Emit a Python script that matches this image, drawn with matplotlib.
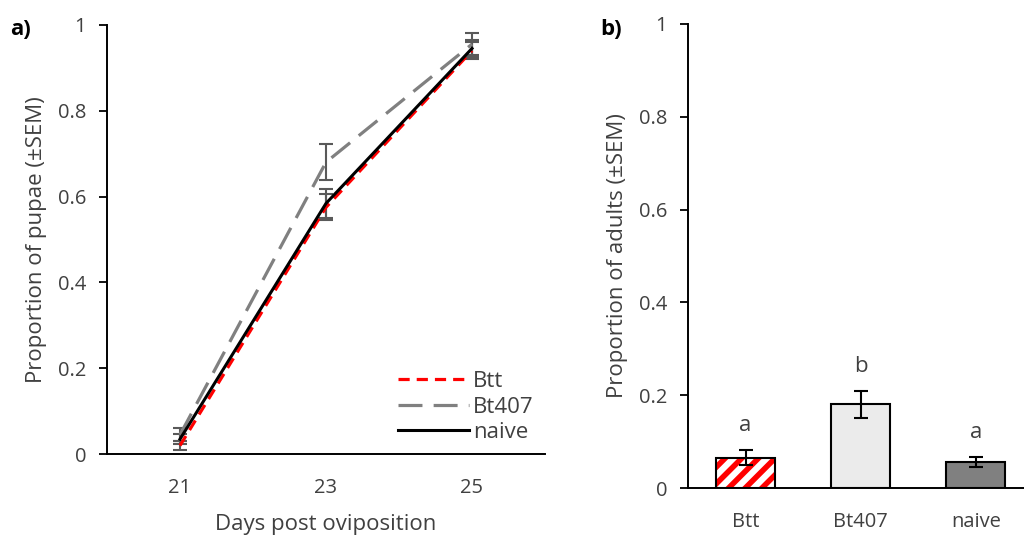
import numpy as np
import matplotlib.pyplot as plt

plt.rcParams['font.family'] = ['Open Sans', 'DejaVu Sans']
plt.rcParams['hatch.linewidth'] = 4

# panel a) - pupation over time
days = [21, 23, 25]
btt = [0.02, 0.575, 0.94]
btt_err = [0.01, 0.03, 0.02]
bt407 = [0.045, 0.68, 0.955]
bt407_err = [0.015, 0.042, 0.025]
naive = [0.035, 0.584, 0.945]
naive_err = [0.012, 0.033, 0.02]

# panel b) - adults
groups = ['Btt', 'Bt407', 'naive']
adults = [0.066, 0.181, 0.057]
adults_err = [0.016, 0.029, 0.011]
letters = ['a', 'b', 'a']

txt = '#404040'
ticks_y = [0, 0.2, 0.4, 0.6, 0.8, 1]
ticks_lbl = ['0', '0.2', '0.4', '0.6', '0.8', '1']

fig = plt.figure(figsize=(10.24, 5.4), dpi=100)

ax1 = fig.add_axes([0.1045, 0.159, 0.4277, 0.795])
ax1.errorbar(days, bt407, yerr=bt407_err, color='#595959', ls='none', capsize=5, elinewidth=1.5, capthick=1.5)
ax1.errorbar(days, naive, yerr=naive_err, color='#595959', ls='none', capsize=5, elinewidth=1.5, capthick=1.5)
ax1.errorbar(days, btt, yerr=btt_err, color='#595959', ls='none', capsize=5, elinewidth=1.5, capthick=1.5)
ax1.plot(days, btt, color='#ff0000', lw=2.3, dashes=(3.5, 2.2), label='Btt')
ax1.plot(days, bt407, color='#808080', lw=2.3, dashes=(7.5, 3.5), label='Bt407')
ax1.plot(days, naive, color='black', lw=2.2, label='naive')

ax1.set_xlim(20, 26)
ax1.set_ylim(0, 1)
ax1.set_xticks(days)
ax1.set_yticks(ticks_y)
ax1.set_yticklabels(ticks_lbl)
ax1.tick_params(axis='x', length=0, pad=17, labelsize=14.5, labelcolor=txt)
ax1.tick_params(axis='y', length=6, width=1.3, pad=9, labelsize=14.5, labelcolor=txt)
ax1.spines['top'].set_visible(False)
ax1.spines['right'].set_visible(False)
ax1.spines['left'].set_linewidth(1.4)
ax1.spines['bottom'].set_linewidth(1.4)
ax1.set_xlabel('Days post oviposition', fontsize=16, color=txt, labelpad=12)
ax1.set_ylabel('Proportion of pupae (\u00b1SEM)', fontsize=16, color=txt, labelpad=8)
ax1.legend(loc='lower right', frameon=False, fontsize=16, handlelength=3.2, handletextpad=0.2,
           labelspacing=0.2, borderaxespad=0.1, bbox_to_anchor=(1.0, 0.0))
for t in ax1.get_legend().get_texts():
    t.set_color(txt)
fig.text(0.01, 0.935, 'a)', fontsize=16, fontweight='bold', color='black')

ax2 = fig.add_axes([0.672, 0.096, 0.337, 0.86])
x = np.arange(len(groups))
w = 0.51
ax2.bar(x[0], adults[0], w, color='white', edgecolor='#ff0000', hatch='//', lw=0, zorder=2)
ax2.bar(x[1], adults[1], w, color='#ebebeb', lw=0, zorder=2)
ax2.bar(x[2], adults[2], w, color='#808080', lw=0, zorder=2)
ax2.bar(x, adults, w, fill=False, edgecolor='black', lw=1.5, zorder=3)
ax2.errorbar(x, adults, yerr=adults_err, color='black', ls='none', capsize=5, elinewidth=1.5, capthick=1.5, zorder=4)
for i in range(len(groups)):
    ax2.text(x[i], adults[i] + adults_err[i] + 0.03, letters[i], ha='center', va='bottom', fontsize=16, color=txt)

ax2.set_xlim(-0.5, 2.5)
ax2.set_ylim(0, 1)
ax2.set_xticks(x)
ax2.set_xticklabels(groups)
ax2.set_yticks(ticks_y)
ax2.set_yticklabels(ticks_lbl)
ax2.tick_params(axis='x', length=0, pad=17, labelsize=14.5, labelcolor=txt)
ax2.tick_params(axis='y', length=6, width=1.3, pad=9, labelsize=14.5, labelcolor=txt)
ax2.spines['top'].set_visible(False)
ax2.spines['right'].set_visible(False)
ax2.spines['left'].set_linewidth(1.4)
ax2.spines['bottom'].set_linewidth(1.4)
ax2.set_ylabel('Proportion of adults (\u00b1SEM)', fontsize=16, color=txt, labelpad=8)
fig.text(0.586, 0.935, 'b)', fontsize=16, fontweight='bold', color='black')

fig.savefig('out.png', dpi=100)
